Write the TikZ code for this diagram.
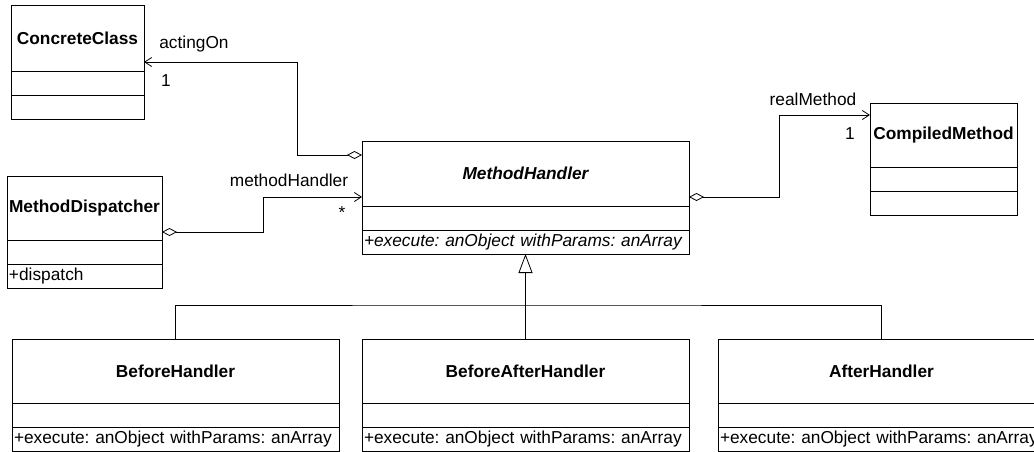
\documentclass[tikz,border=0pt]{standalone}
\usepackage{fontspec}
\setmainfont{Liberation Sans}
\usetikzlibrary{positioning,arrows.meta,calc}
\newcommand{\umlsize}{\fontsize{17.3}{20}\selectfont\frenchspacing}

\begin{document}
\begin{tikzpicture}[x=1pt, y=1pt,
  cls/.style={draw, line width=0.8pt, outer sep=0pt, minimum height=65pt, inner sep=0pt, font=\umlsize\bfseries},
  cmp/.style={draw, line width=0.8pt, outer sep=0pt, minimum height=24pt, inner sep=0pt},
  opsbox/.style={draw, line width=0.8pt, outer sep=0pt, minimum height=24pt, inner xsep=2pt, inner ysep=0pt,
    text width=#1, align=left, font=\umlsize},
  lbl/.style={inner sep=0pt, font=\umlsize},
  assoc/.style={line width=0.8pt, {Diamond[open,length=15pt,width=8pt]}-{Straight Barb[length=7pt,width=9pt]}},
  gen/.style={line width=0.8pt, -{Triangle[open,length=19pt,width=14pt]}},
  link/.style={line width=0.8pt}
]
\useasboundingbox (0,0) rectangle (1034,-451);
\clip (0,0) rectangle (1034,-451);

% classes
\node[cls, minimum width=133pt, minimum height=66pt] (cc) at (77.5,-38) {ConcreteClass};
\node[cmp, minimum width=133pt, below=0pt of cc] (ccA) {};
\node[cmp, minimum width=133pt, below=0pt of ccA] (ccO) {};

\node[cls, minimum width=155pt, minimum height=64pt] (md) at (84.5,-208) {MethodDispatcher};
\node[cmp, minimum width=155pt, below=0pt of md] (mdA) {};
\node[opsbox=151pt, below=0pt of mdA] (mdO) {\mbox{+dispatch}};

\node[cls, minimum width=327pt, font=\umlsize\bfseries\itshape] (mh) at (525.5,-173.5) {MethodHandler};
\node[cmp, minimum width=327pt, below=0pt of mh] (mhA) {};
\node[opsbox=323pt, below=0pt of mhA, font=\umlsize\itshape] (mhO) {\mbox{+execute: anObject withParams: anArray}};

\node[cls, minimum width=147pt, minimum height=64pt] (cm) at (943.5,-135) {CompiledMethod};
\node[cmp, minimum width=147pt, below=0pt of cm] (cmA) {};
\node[cmp, minimum width=147pt, below=0pt of cmA] (cmO) {};

\node[cls, minimum width=327pt, minimum height=64pt] (bh) at (175.5,-371) {BeforeHandler};
\node[cmp, minimum width=327pt, below=0pt of bh] (bhA) {};
\node[opsbox=323pt, below=0pt of bhA] (bhO) {\mbox{+execute: anObject withParams: anArray}};

\node[cls, minimum width=327pt, minimum height=64pt] (bah) at (525.5,-371) {BeforeAfterHandler};
\node[cmp, minimum width=327pt, below=0pt of bah] (bahA) {};
\node[opsbox=323pt, below=0pt of bahA] (bahO) {\mbox{+execute: anObject withParams: anArray}};

\node[cls, minimum width=327pt, minimum height=64pt] (ah) at (881.5,-371) {AfterHandler};
\node[cmp, minimum width=327pt, below=0pt of ah] (ahA) {};
\node[opsbox=323pt, below=0pt of ahA] (ahO) {\mbox{+execute: anObject withParams: anArray}};

% association labels
\node[lbl] (actLbl) at (194,-44) {actingOn};
\node[lbl] (actMul) at (166,-81) {1};
\node[lbl] (mhLbl) at (289,-180) {methodHandler};
\node[lbl] (mhMul) at (342,-213) {*};
\node[lbl] (rmLbl) at (813,-99) {realMethod};
\node[lbl] (rmMul) at (850,-134) {1};

% associations
\draw[assoc] ($(mh.north west)+(0,-14)$) -- ++(-65,0) |- ($(cc.south east)+(0,9)$);
\draw[assoc] ($(md.south east)+(0,8)$) -- ++(101,0) |- ($(mh.south west)+(0,9)$);
\draw[assoc] ($(mh.south east)+(0,9)$) -- ++(90,0) |- ($(cm.north west)+(0,-12)$);

% generalization
\coordinate (bar) at ($(mhO.south)+(0,-51)$);
\draw[gen] (bah.north) -- (mhO.south);
\draw[link] (bh.north) |- (bar) -| (ah.north);
\end{tikzpicture}
\end{document}
